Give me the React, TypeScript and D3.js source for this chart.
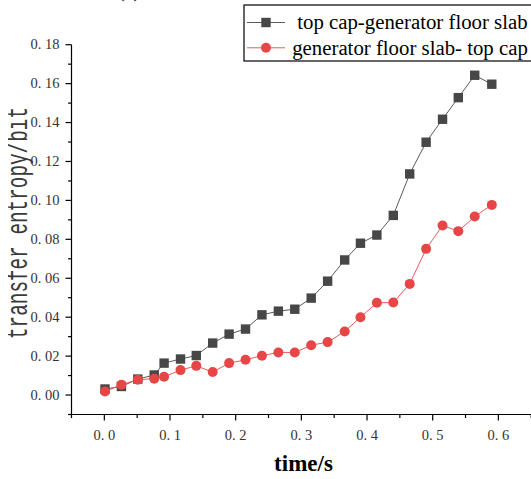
import React from "react";
import * as d3 from "d3";

const times = [0.001, 0.026, 0.051, 0.076, 0.091, 0.116, 0.14, 0.165, 0.19, 0.215, 0.24, 0.265, 0.29, 0.315, 0.34, 0.366, 0.39, 0.415, 0.44, 0.465, 0.49, 0.515, 0.539, 0.564, 0.59];
const topToFloor = [0.0031, 0.0044, 0.0082, 0.0103, 0.0164, 0.0185, 0.0203, 0.0267, 0.0313, 0.0339, 0.0412, 0.0431, 0.0441, 0.0498, 0.0585, 0.0694, 0.078, 0.0822, 0.0923, 0.1136, 0.1299, 0.1417, 0.1528, 0.1643, 0.1597];
const floorToTop = [0.0018, 0.0053, 0.0079, 0.0084, 0.0094, 0.0128, 0.015, 0.0118, 0.0164, 0.0181, 0.0202, 0.0219, 0.0219, 0.0256, 0.0272, 0.0326, 0.04, 0.0474, 0.0475, 0.0571, 0.0751, 0.0871, 0.0842, 0.0917, 0.0977];
const yMajorTicks = [0, 0.02, 0.04, 0.06, 0.08, 0.1, 0.12, 0.14, 0.16, 0.18];
const xMajorTicks = [0, 0.1, 0.2, 0.3, 0.4, 0.5, 0.6];
const seriesNames = [" top cap-generator floor slab", " generator floor slab- top cap"];

const W = 531;
const H = 479;

export default function App() {
  const x = d3.scaleLinear().domain([-0.05, 0.65]).range([71.5, 531.2]);
  const y = d3.scaleLinear().domain([-0.01, 0.18]).range([414.5, 44.7]);

  const yMinor = d3
    .range(-1, 19)
    .map((i) => i / 100)
    .filter((v) => !yMajorTicks.some((m) => Math.abs(m - v) < 1e-9));
  const xMinor = d3.range(-1, 14, 2).map((i) => i * 0.05);

  const line = d3
    .line<number>()
    .x((_, i) => x(times[i]))
    .y((d) => y(d));

  const fmtY = (v: number) => v.toFixed(2).replace(".", ". ");
  const fmtX = (v: number) => v.toFixed(1).replace(".", ". ");

  const tickFont = "'Liberation Serif', 'Times New Roman', serif";
  const blackLine = "#5a5a5a";
  const blackMark = "#474747";
  const redLine = "#e85a5a";
  const redMark = "#e64646";

  const x0 = x(-0.05);
  const yBottom = y(-0.01);

  return (
    <svg width={W} height={H} style={{ position: "absolute", left: 0, top: 0, background: "#fff" }}>
      <defs>
        <clipPath id="ylabClip">
          <rect x={8} y={0} width={40} height={H} />
        </clipPath>
      </defs>
      <text x={129} y={-3} fontFamily={tickFont} fontSize={20} textAnchor="middle" fill="#000">(a)</text>

      {/* Y axis */}
      <line x1={x0} x2={x0} y1={y(0.18)} y2={yBottom} stroke="#000" strokeWidth={1.2} />
      {yMajorTicks.map((t) => (
        <g key={"ym" + t}>
          <line x1={x0 - 6} x2={x0} y1={y(t)} y2={y(t)} stroke="#000" strokeWidth={1.2} />
          <text x={x0 - 12} y={y(t) + 4.5} fontFamily={tickFont} fontSize={14.5} textAnchor="end" fill="#333">
            {fmtY(t)}
          </text>
        </g>
      ))}
      {yMinor.map((t) => (
        <line key={"yn" + t} x1={x0 - 3.5} x2={x0} y1={y(t)} y2={y(t)} stroke="#000" strokeWidth={1.2} />
      ))}

      {/* X axis */}
      <line x1={x0} x2={W} y1={yBottom} y2={yBottom} stroke="#000" strokeWidth={1.2} />
      {xMajorTicks.map((t) => (
        <g key={"xm" + t}>
          <line x1={x(t)} x2={x(t)} y1={yBottom} y2={yBottom + 6} stroke="#000" strokeWidth={1.2} />
          <text x={x(t)} y={440} fontFamily={tickFont} fontSize={14.5} textAnchor="middle" fill="#333">
            {fmtX(t)}
          </text>
        </g>
      ))}
      {xMinor.map((t) => (
        <line key={"xn" + t} x1={x(t)} x2={x(t)} y1={yBottom} y2={yBottom + 3.5} stroke="#000" strokeWidth={1.2} />
      ))}

      {/* Axis titles */}
      <text x={303.5} y={471} fontFamily={tickFont} fontSize={23} fontWeight="bold" textAnchor="middle" fill="#000">
        time/s
      </text>
      <g clipPath="url(#ylabClip)">
        <text
          transform={`translate(27, 223) rotate(-90)`}
          fontFamily="'Liberation Mono', monospace"
          fontSize={30}
          textAnchor="middle"
          textLength={232}
          lengthAdjust="spacingAndGlyphs"
          fill="#3a3a3a"
        >
          transfer entropy/bit
        </text>
      </g>

      {/* Series */}
      <path d={line(topToFloor) || ""} fill="none" stroke={blackLine} strokeWidth={1} />
      {topToFloor.map((v, i) => (
        <rect key={"s" + i} x={x(times[i]) - 4.7} y={y(v) - 4.7} width={9.4} height={9.4} fill={blackMark} />
      ))}
      <path d={line(floorToTop) || ""} fill="none" stroke={redLine} strokeWidth={1} />
      {floorToTop.map((v, i) => (
        <circle key={"c" + i} cx={x(times[i])} cy={y(v)} r={5} fill={redMark} />
      ))}

      {/* Legend */}
      <rect x={244} y={5} width={300} height={56} fill="#fff" stroke="#000" strokeWidth={1.2} />
      <line x1={247} x2={285} y1={22.5} y2={22.5} stroke={blackLine} strokeWidth={1} />
      <rect x={266 - 4.7} y={22.5 - 4.7} width={9.4} height={9.4} fill={blackMark} />
      <text x={292} y={29} fontFamily={tickFont} fontSize={20.8} fill="#000" style={{ whiteSpace: "pre" }}>
        {seriesNames[0]}
      </text>
      <line x1={247} x2={285} y1={47.8} y2={47.8} stroke={redLine} strokeWidth={1} />
      <circle cx={266} cy={47.8} r={5} fill={redMark} />
      <text x={287} y={54.5} fontFamily={tickFont} fontSize={20.8} fill="#000" style={{ whiteSpace: "pre" }}>
        {seriesNames[1]}
      </text>
    </svg>
  );
}
